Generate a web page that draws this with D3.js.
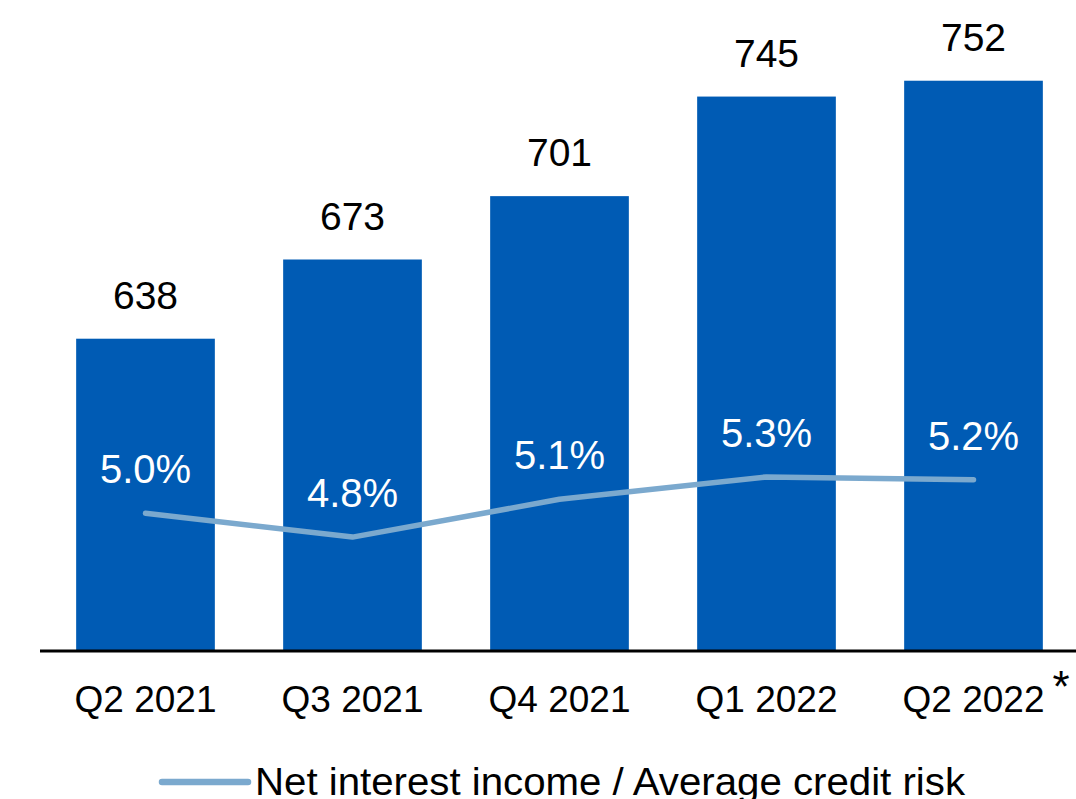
<!DOCTYPE html>
<html>
<head>
<meta charset="utf-8">
<script src="https://cdn.jsdelivr.net/npm/d3@7"></script>
<style>
  body { margin: 0; background: #fff; }
  text { font-family: "Liberation Sans", Arial, sans-serif; }
</style>
</head>
<body>
<div id="chart"></div>
<script>
// chart data
let quarters = ["Q2 2021", "Q3 2021", "Q4 2021", "Q1 2022", "Q2 2022"];
let netInterestIncome = [638, 673, 701, 745, 752];
let niiToCreditRisk = [5.0, 4.83, 5.10, 5.26, 5.24];
let pctLabels = ["5.0%", "4.8%", "5.1%", "5.3%", "5.2%"];
let legendLabel = "Net interest income / Average credit risk";

let svgWidth = 1076;
let svgHeight = 799;
let baseline = 651;

let svg = d3.select("#chart")
  .append("svg")
  .attr("width", svgWidth)
  .attr("height", svgHeight);

// x band scale
let x = d3.scaleBand()
  .domain(quarters)
  .range([42, 1077])
  .paddingInner(0.33)
  .paddingOuter(0.165);

// bars start from 500, not zero
let y = d3.scaleLinear()
  .domain([500, 800])
  .range([baseline, baseline - 300 * 2.263]);

// secondary scale for the ratio line
let y2 = d3.scaleLinear()
  .domain([4, 6])
  .range([653.3, 373.3]);

let barData = quarters.map((q, i) => ({ q: q, v: netInterestIncome[i], p: niiToCreditRisk[i], lbl: pctLabels[i] }));

// bars
svg.selectAll("rect.bar")
  .data(barData)
  .enter()
  .append("rect")
  .attr("class", "bar")
  .attr("x", d => x(d.q))
  .attr("y", d => y(d.v))
  .attr("width", x.bandwidth())
  .attr("height", d => baseline - y(d.v))
  .attr("fill", "#005BB4");

// value labels above bars
svg.selectAll("text.val")
  .data(barData)
  .enter()
  .append("text")
  .attr("class", "val")
  .attr("x", d => x(d.q) + x.bandwidth() / 2)
  .attr("y", d => y(d.v) - 30)
  .attr("text-anchor", "middle")
  .attr("font-size", "39px")
  .attr("fill", "#000")
  .text(d => d.v);

// ratio line
let line = d3.line()
  .x(d => x(d.q) + x.bandwidth() / 2)
  .y(d => y2(d.p));

svg.append("path")
  .datum(barData)
  .attr("d", line)
  .attr("fill", "none")
  .attr("stroke", "#7BA9CE")
  .attr("stroke-width", 5.5)
  .attr("stroke-linecap", "round")
  .attr("stroke-linejoin", "round");

// ratio labels
svg.selectAll("text.pct")
  .data(barData)
  .enter()
  .append("text")
  .attr("class", "pct")
  .attr("x", d => x(d.q) + x.bandwidth() / 2)
  .attr("y", d => y2(d.p) - 30)
  .attr("text-anchor", "middle")
  .attr("font-size", "40px")
  .attr("fill", "#fff")
  .text(d => d.lbl);

// x axis
let xAxis = svg.append("g")
  .attr("transform", `translate(0,${baseline})`)
  .call(d3.axisBottom(x).tickSize(0).tickPadding(0));

xAxis.select(".domain").remove();
svg.append("line")
  .attr("x1", 40)
  .attr("x2", svgWidth)
  .attr("y1", baseline)
  .attr("y2", baseline)
  .attr("stroke", "#000")
  .attr("stroke-width", 3);

xAxis.selectAll(".tick text")
  .attr("y", 61)
  .attr("dy", 0)
  .attr("font-size", "37px")
  .attr("font-family", "Liberation Sans, Arial, sans-serif")
  .attr("fill", "#000");

// asterisk on the last quarter
let lastQ = quarters[quarters.length - 1];
svg.append("text")
  .attr("x", x(lastQ) + x.bandwidth() / 2 + 79)
  .attr("y", baseline + 51)
  .attr("font-size", "44px")
  .attr("fill", "#000")
  .text("*");

// legend
let legend = svg.append("g").attr("transform", "translate(162,782)");
legend.append("line")
  .attr("x1", 0)
  .attr("x2", 86)
  .attr("stroke", "#7BA9CE")
  .attr("stroke-width", 6.5)
  .attr("stroke-linecap", "round");
legend.append("text")
  .attr("x", 93)
  .attr("y", 13)
  .attr("font-size", "38px")
  .attr("textLength", 710)
  .attr("lengthAdjust", "spacingAndGlyphs")
  .attr("fill", "#000")
  .text(legendLabel);
</script>
</body>
</html>
